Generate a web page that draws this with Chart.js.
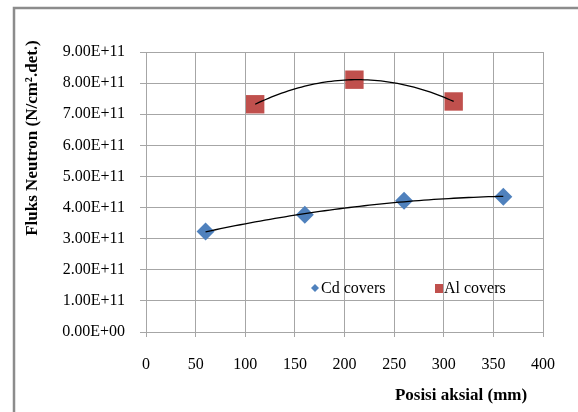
<!DOCTYPE html>
<html>
<head>
<meta charset="utf-8">
<script src="https://cdn.jsdelivr.net/npm/chart.js@4/dist/chart.umd.min.js"></script>
<style>
  html, body { margin: 0; padding: 0; background: #fff; }
  #wrap { width: 578px; height: 412px; }
</style>
</head>
<body>
<div id="wrap"><canvas id="fluksChart" width="578" height="412"></canvas></div>
<script>
// Data
const posisiCd = [60, 160, 260, 360];
const fluksCd = [3.23e11, 3.77e11, 4.22e11, 4.35e11];
const posisiAl = [110, 210, 310];
const fluksAl = [7.32e11, 8.11e11, 7.41e11];

const xTicks = [0, 50, 100, 150, 200, 250, 300, 350, 400];
const yTicks = [0, 1e11, 2e11, 3e11, 4e11, 5e11, 6e11, 7e11, 8e11, 9e11];

const seriesNames = ['Cd covers', 'Al covers'];
const yTitle = 'Fluks Neutron (N/cm\u00B2.det.)';
const xTitle = 'Posisi aksial (mm)';

const SERIF = '"Liberation Serif", "Times New Roman", serif';

function toPoints(xs, ys) {
    return xs.map((x, i) => ({ x: x, y: ys[i] }));
}

// format Excel 0.00E+00
function fmtSci(v) {
    if (v === 0) return '0.00E+00';
    const parts = v.toExponential(2).split('e');
    let exp = parseInt(parts[1], 10);
    const sign = exp < 0 ? '-' : '+';
    exp = Math.abs(exp);
    return parts[0] + 'E' + sign + (exp < 10 ? '0' + exp : exp);
}

// trendline polinomial orde 2 (kuadrat terkecil)
function polyFit2(xs, ys) {
    let s = [0, 0, 0, 0, 0], t = [0, 0, 0];
    for (let i = 0; i < xs.length; i++) {
        let p = 1;
        for (let k = 0; k < 5; k++) { s[k] += p; if (k < 3) t[k] += p * ys[i]; p *= xs[i]; }
    }
    const m = [[s[0], s[1], s[2], t[0]], [s[1], s[2], s[3], t[1]], [s[2], s[3], s[4], t[2]]];
    for (let c = 0; c < 3; c++) {
        for (let r = c + 1; r < 3; r++) {
            const f = m[r][c] / m[c][c];
            for (let k = c; k < 4; k++) m[r][k] -= f * m[c][k];
        }
    }
    const a = [0, 0, 0];
    for (let r = 2; r >= 0; r--) {
        let sum = m[r][3];
        for (let k = r + 1; k < 3; k++) sum -= m[r][k] * a[k];
        a[r] = sum / m[r][r];
    }
    return a;
}

const trendPlugin = {
    id: 'trend',
    afterDatasetsDraw(chart) {
        const ctx = chart.ctx;
        const xs = chart.scales.x, ys = chart.scales.y;
        ctx.save();
        ctx.strokeStyle = '#000';
        ctx.lineWidth = 1.3;
        chart.data.datasets.forEach(ds => {
            const px = ds.data.map(d => d.x), py = ds.data.map(d => d.y);
            const a = polyFit2(px, py);
            const x0 = Math.min(...px), x1 = Math.max(...px);
            ctx.beginPath();
            for (let i = 0; i <= 60; i++) {
                const x = x0 + (x1 - x0) * i / 60;
                const y = a[0] + a[1] * x + a[2] * x * x;
                const X = xs.getPixelForValue(x), Y = ys.getPixelForValue(y);
                if (i === 0) ctx.moveTo(X, Y); else ctx.lineTo(X, Y);
            }
            ctx.stroke();
        });
        ctx.restore();
    }
};

const decorPlugin = {
    id: 'decor',
    afterDraw(chart) {
        const ctx = chart.ctx;
        ctx.save();
        // bingkai luar
        ctx.strokeStyle = '#8c8c8c';
        ctx.lineWidth = 2.5;
        ctx.beginPath();
        ctx.moveTo(14, 420);
        ctx.lineTo(14, 8);
        ctx.lineTo(590, 8);
        ctx.stroke();

        ctx.fillStyle = '#000';
        ctx.font = 'bold 17px ' + SERIF;
        ctx.textAlign = 'center';
        ctx.textBaseline = 'middle';
        ctx.fillText(xTitle, 461, 396);
        ctx.translate(33, 138);
        ctx.rotate(-Math.PI / 2);
        ctx.fillText(yTitle, 0, 0);
        ctx.restore();

        // legenda di dalam area plot
        ctx.save();
        ctx.font = '16px ' + SERIF;
        ctx.textBaseline = 'middle';
        ctx.textAlign = 'left';
        ctx.fillStyle = '#4f81bd';
        ctx.beginPath();
        ctx.moveTo(315, 284); ctx.lineTo(319, 288); ctx.lineTo(315, 292); ctx.lineTo(311, 288);
        ctx.closePath(); ctx.fill();
        ctx.fillStyle = '#000';
        ctx.fillText(seriesNames[0], 321, 289);
        ctx.fillStyle = '#c0504d';
        ctx.fillRect(435, 284, 8, 9);
        ctx.fillStyle = '#000';
        ctx.fillText(seriesNames[1], 444, 289);
        ctx.restore();
    }
};

function init() {
    const ctx = document.getElementById('fluksChart').getContext('2d');
    window.myChart = new Chart(ctx, {
        type: 'scatter',
        data: {
            datasets: [
                {
                    label: seriesNames[0],
                    data: toPoints(posisiCd, fluksCd),
                    pointStyle: 'rectRot',
                    pointRadius: 9,
                    pointHoverRadius: 9,
                    backgroundColor: '#4f81bd',
                    borderColor: '#4f81bd',
                    borderWidth: 0
                },
                {
                    label: seriesNames[1],
                    data: toPoints(posisiAl, fluksAl),
                    pointStyle: 'rect',
                    pointRadius: 13,
                    pointHoverRadius: 13,
                    backgroundColor: '#c0504d',
                    borderColor: '#c0504d',
                    borderWidth: 0
                }
            ]
        },
        options: {
            responsive: false,
            animation: false,
            layout: { padding: { left: 0, top: 52, right: 35, bottom: 0 } },
            plugins: {
                legend: { display: false },
                tooltip: { enabled: false }
            },
            scales: {
                x: {
                    type: 'linear',
                    min: 0,
                    max: 400,
                    afterBuildTicks: s => { s.ticks = xTicks.map(v => ({ value: v })); },
                    afterFit: s => { s.height = 80; },
                    grid: { color: '#a6a6a6', lineWidth: 1, tickLength: 5 },
                    border: { color: '#a6a6a6' },
                    ticks: { color: '#000', padding: 18, maxRotation: 0, font: { family: SERIF, size: 16 } }
                },
                y: {
                    type: 'linear',
                    min: 0,
                    max: 9e11,
                    afterBuildTicks: s => { s.ticks = yTicks.map(v => ({ value: v })); },
                    afterFit: s => { s.width = 146; },
                    grid: { color: '#a6a6a6', lineWidth: 1, tickLength: 6 },
                    border: { color: '#a6a6a6' },
                    ticks: {
                        color: '#000',
                        padding: 15,
                        font: { family: SERIF, size: 16 },
                        callback: v => fmtSci(v)
                    }
                }
            }
        },
        plugins: [trendPlugin, decorPlugin]
    });
}

init();
</script>
</body>
</html>
